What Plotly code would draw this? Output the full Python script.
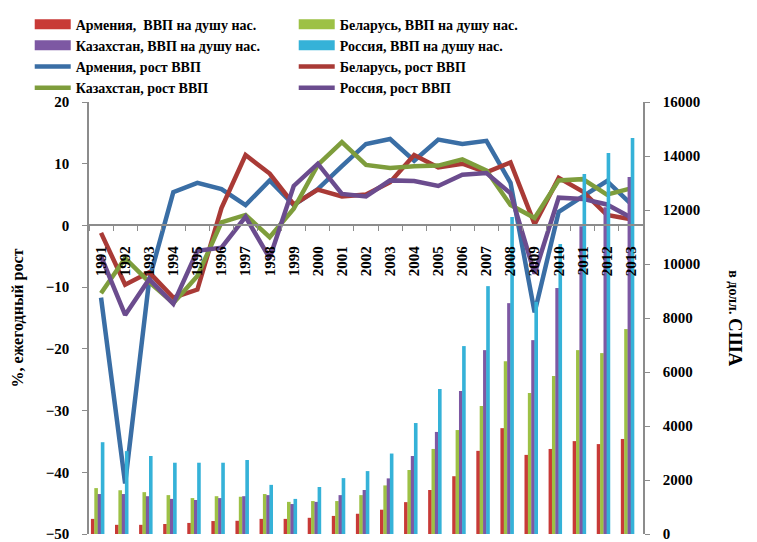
import plotly.graph_objects as go

years = [str(y) for y in range(1991, 2014)]

# ВВП на душу населения, долл. США (правая ось)
gdp_armenia = [560, 340, 340, 370, 410, 480, 490, 560, 560, 600, 670, 750, 900,
               1180, 1630, 2140, 3080, 3920, 2930, 3150, 3440, 3330, 3520]
gdp_belarus = [1700, 1620, 1550, 1440, 1330, 1400, 1380, 1480, 1190, 1220, 1220, 1440, 1800,
               2370, 3150, 3850, 4740, 6400, 5220, 5850, 6810, 6700, 7590]
gdp_kazakhstan = [1480, 1480, 1400, 1300, 1260, 1330, 1400, 1440, 1110, 1190, 1440, 1630, 2060,
                  2890, 3780, 5300, 6810, 8550, 7180, 9110, 11400, 12100, 13220]
gdp_russia = [3400, 3070, 2890, 2640, 2640, 2640, 2740, 1820, 1300, 1740, 2070, 2330, 2980,
              4110, 5370, 6960, 9180, 11740, 8600, 10740, 13330, 14110, 14670]

# Рост ВВП, % (левая ось)
growth_armenia = [-11.7, -41.8, -8.8, 5.4, 6.9, 5.9, 3.3, 7.3, 3.3, 5.9, 9.6, 13.2, 14.0,
                  10.5, 13.9, 13.2, 13.7, 6.9, -14.1, 2.2, 4.7, 7.2, 3.5]
growth_belarus = [-1.2, -9.6, -7.6, -11.7, -10.4, 2.8, 11.4, 8.4, 3.4, 5.8, 4.7, 5.0, 7.0,
                  11.4, 9.4, 10.0, 8.6, 10.2, 0.2, 7.7, 5.5, 1.7, 1.0]
growth_kazakhstan = [-11.0, -5.3, -9.2, -12.6, -8.2, 0.5, 1.7, -1.9, 2.7, 9.8, 13.5, 9.8, 9.3,
                     9.6, 9.7, 10.7, 8.9, 3.3, 1.2, 7.3, 7.5, 5.0, 6.0]
growth_russia = [-5.0, -14.5, -8.7, -12.7, -4.1, -3.6, 1.4, -5.3, 6.4, 10.0, 5.1, 4.7, 7.3,
                 7.2, 6.4, 8.2, 8.5, 5.2, -7.8, 4.5, 4.3, 3.4, 1.3]

FONT = "Liberation Serif"

bars = [
    ("Армения,  ВВП на душу нас.", gdp_armenia, "#C83A37", -0.42),
    ("Беларусь, ВВП на душу нас.", gdp_belarus, "#9DC145", -0.28),
    ("Казахстан, ВВП на душу нас.", gdp_kazakhstan, "#7D58A3", -0.14),
    ("Россия, ВВП на душу нас.", gdp_russia, "#35B2D8", -0.01),
]
lines = [
    ("Армения, рост ВВП", growth_armenia, "#3A6EA5"),
    ("Беларусь, рост ВВП", growth_belarus, "#A93A36"),
    ("Казахстан, рост ВВП", growth_kazakhstan, "#7E9D3C"),
    ("Россия, рост ВВП", growth_russia, "#6B4C8E"),
]

fig = go.Figure()

for name, vals, color, off in bars:
    fig.add_trace(go.Bar(
        x=years, y=vals, yaxis="y2", marker=dict(color=color, line=dict(width=0)),
        width=0.15, offset=off, showlegend=False, name=name,
    ))

# legend entries for bars (wide rectangles like in the original)
for name, vals, color, off in bars:
    fig.add_trace(go.Scatter(
        x=[None], y=[None], mode="lines", line=dict(color=color, width=10),
        name=name, yaxis="y",
    ))

for name, vals, color in lines:
    fig.add_trace(go.Scatter(
        x=years, y=vals, mode="lines", line=dict(color=color, width=4.5),
        name=name, yaxis="y",
    ))

fig.add_annotation(
    xref="paper", yref="paper", x=1.19, y=0.5, textangle=90, showarrow=False,
    text="<b>в долл. <span style='font-size:19px'>США</span></b>",
    font=dict(family=FONT, size=14, color="black"),
)

# the page body adds an 8px offset, so the figure is a bit smaller than the window
fig.update_layout(
    width=749, height=534,
    margin=dict(l=81, r=114, t=94, b=8, autoexpand=False),
    plot_bgcolor="white", paper_bgcolor="white",
    font=dict(family=FONT, size=15, color="black"),
    barmode="overlay",
    showlegend=True,
    legend=dict(
        orientation="h", x=0.029, y=0.999, xanchor="left", yanchor="top",
        xref="container", yref="container",
        entrywidth=213, entrywidthmode="pixels",
        font=dict(family=FONT, size=14, color="black", weight="bold"),
        bgcolor="rgba(0,0,0,0)", itemwidth=36, tracegroupgap=0,
    ),
    xaxis=dict(
        type="category", anchor="free", position=50 / 70,
        showline=True, linecolor="#8C8C8C", linewidth=1.5,
        ticks="outside", ticklen=5, tickcolor="#8C8C8C", tickson="boundaries",
        tickangle=-90, ticklabelstandoff=14,
        tickfont=dict(family=FONT, size=15, color="black", weight="bold"),
        showgrid=False, zeroline=False,
    ),
    yaxis=dict(
        range=[-50, 20], dtick=10, showgrid=False, zeroline=False,
        showline=True, linecolor="#8C8C8C", linewidth=1.5,
        ticks="outside", ticklen=5, tickcolor="#8C8C8C", ticklabelstandoff=10,
        ticklabeloverflow="allow",
        tickfont=dict(family=FONT, size=15, color="black", weight="bold"),
        title=dict(text="<b>%, ежегодный рост</b>", font=dict(family=FONT, size=16), standoff=18),
    ),
    yaxis2=dict(
        range=[0, 16000], dtick=2000, overlaying="y", side="right", anchor="x",
        tickformat="d", ticklabeloverflow="allow",
        showgrid=False, zeroline=False,
        showline=True, linecolor="#8C8C8C", linewidth=1.5,
        ticks="outside", ticklen=5, tickcolor="#8C8C8C", ticklabelstandoff=10,
        tickfont=dict(family=FONT, size=15, color="black", weight="bold"),
    ),
)

fig.write_html("out.html")
